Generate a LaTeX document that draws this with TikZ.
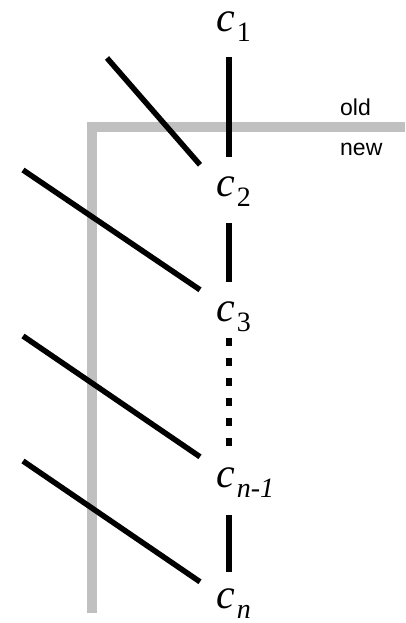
\documentclass[tikz,border=0pt]{standalone}
\usepackage{fontspec}
\setmainfont{Liberation Serif}
\newfontfamily\tagfont{Liberation Sans}
\usetikzlibrary{calc}
\definecolor{rule}{HTML}{C0C0C0}
\newcommand{\cvar}[1]{\textit{c}\kern2pt\raisebox{-10pt}{\fontsize{28}{28}\selectfont #1}}

\begin{document}
\begin{tikzpicture}[x=1pt, y=-1pt,
  var/.style={inner sep=0pt, anchor=base west, text height=20pt, text depth=14pt, font=\fontsize{42}{42}\selectfont},
  tag/.style={inner sep=0pt, anchor=base west, font=\tagfont\fontsize{23}{23}\selectfont},
  link/.style={line width=5.5pt},
  gap/.style={line width=5.5pt, dash pattern=on 8pt off 12pt},
  split/.style={line width=9.5pt, draw=rule, line join=miter}
]
  \useasboundingbox (0,0) rectangle (405,623);
  % old / new boundary
  \draw[split] (92,613) -- (92,127) -- (405,127);
  \node[tag] (old) at (340,115) {old};
  \node[tag] (new) at (340,155) {new};
  % Chain
  \coordinate (axis) at (229,0);
  \node[var] (c1) at (216,32) {\cvar{1}};
  \node[var] (c2) at (216,196) {\cvar{2}};
  \node[var] (c3) at (216,321) {\cvar{3}};
  \node[var] (cn1) at (216,487) {\cvar{\textit{n-1}}};
  \node[var] (cn) at (216,608) {\cvar{\textit{n}}};
  \draw[link, shorten <=11pt, shorten >=19pt] (c1.south -| axis) -- (c2.north -| axis);
  \draw[link, shorten <=13pt, shorten >=19pt] (c2.south -| axis) -- (c3.north -| axis);
  \draw[gap, shorten <=3pt, shorten >=20pt] (c3.south -| axis) -- (cn1.north -| axis);
  \draw[link, shorten <=14pt, shorten >=16pt] (cn1.south -| axis) -- (cn.north -| axis);
  % Incoming edges
  \coordinate (in2) at (107,58);
  \coordinate (in3) at (23,170);
  \coordinate (inn1) at (23,336);
  \coordinate (inn) at (23,461);
  \draw[link] (in2) -- ([shift={(-16,-11)}]c2.north west);
  \draw[link] (in3) -- ([shift={(-16,-11)}]c3.north west);
  \draw[link] (inn1) -- ([shift={(-16,-10)}]cn1.north west);
  \draw[link] (inn) -- ([shift={(-16,-6)}]cn.north west);
\end{tikzpicture}
\end{document}
